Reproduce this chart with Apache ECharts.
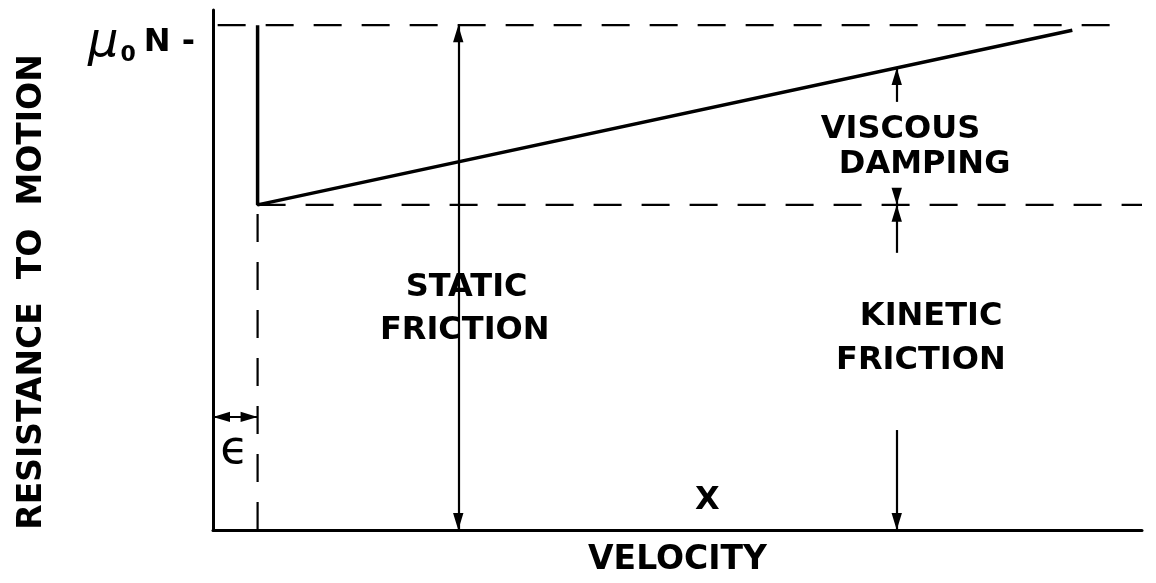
<!DOCTYPE html>
<html>
<head>
<meta charset="utf-8">
<script src="https://cdn.jsdelivr.net/npm/echarts@6/dist/echarts.min.js"></script>
<style>
  html, body { margin: 0; padding: 0; background: #fff; }
  #chart { width: 1156px; height: 583px; }
</style>
</head>
<body>
<div id="chart"></div>
<script>
  // levels (resistance units, muN = 100)
  const muN = 100;
  const kineticLevel = 64.4;
  const breakaway = 4.8;          // epsilon velocity
  // resistance curve: static spike then kinetic + viscous slope
  const curveX = [breakaway, breakaway, 92.5];
  const curveY = [muN, kineticLevel, 99];
  // dimension arrows [x1, y1, x2, y2]
  const staticArrow = [26.4, 0, 26.4, muN];
  const viscousUp = [73.6, 84.8, 73.6, 91.5];
  const viscousDown = [73.6, 67.7, 73.6, kineticLevel];
  const kineticUp = [73.6, 54.9, 73.6, kineticLevel];
  const kineticDown = [73.6, 19.8, 73.6, 0];
  const epsArrow = [0, 22.4, breakaway, 22.4];
  // text labels
  const labelText = ['STATIC', 'FRICTION', 'VISCOUS', 'DAMPING', 'KINETIC', 'FRICTION', 'X', 'ϵ'];
  const labelX = [27.3, 27.1, 74.0, 76.6, 77.3, 76.2, 53.2, 2.3];
  const labelY = [48.0, 39.4, 79.2, 72.3, 42.2, 33.5, 5.9, 15.6];

  const FONT = 'DejaVu Sans';
  // narrow arrow head, tip at the centre of a square box so it ends on the line end
  const HEAD = 'path://M18,18 L23.5,36 L12.5,36 Z M0,0 L0.01,0 M36,36 L35.99,36';
  const chart = echarts.init(document.getElementById('chart'));

  const seg = (a, both) => ({
    coords: [[a[0], a[1]], [a[2], a[3]]],
    symbol: both ? [HEAD, HEAD] : ['none', HEAD]
  });

  const option = {
    animation: false,
    backgroundColor: '#fff',
    grid: { left: 213, right: 14, top: 10, bottom: 53 },
    xAxis: {
      type: 'value', min: 0, max: 100,
      name: 'VELOCITY', nameLocation: 'middle', nameGap: 14,
      nameTextStyle: { fontFamily: FONT, fontWeight: 'bold', fontSize: 33, lineHeight: 33, color: '#000' },
      axisLine: { lineStyle: { color: '#000', width: 3 } },
      axisTick: { show: false }, axisLabel: { show: false }, splitLine: { show: false }
    },
    yAxis: {
      type: 'value', min: 0, max: 103,
      name: 'RESISTANCE  TO  MOTION', nameLocation: 'middle', nameGap: 164, nameRotate: 90,
      nameTextStyle: { fontFamily: FONT, fontWeight: 'bold', fontSize: 33, lineHeight: 33, color: '#000', padding: [0, 44, 0, 0] },
      axisLine: { lineStyle: { color: '#000', width: 3 } },
      axisTick: { show: false }, axisLabel: { show: false }, splitLine: { show: false }
    },
    series: [
      {
        // reference dashed levels
        type: 'line', silent: true, symbol: 'none',
        data: [[0.5, muN], [96.6, muN]],
        lineStyle: { color: '#000', width: 2.2, type: [28, 20] }
      },
      {
        type: 'line', silent: true, symbol: 'none',
        data: [[breakaway, kineticLevel], [100, kineticLevel]],
        lineStyle: { color: '#000', width: 2.2, type: [28, 20] }
      },
      {
        type: 'line', silent: true, symbol: 'none',
        data: [[breakaway, 0], [breakaway, kineticLevel]],
        lineStyle: { color: '#000', width: 2.2, type: [28, 20] }
      },
      {
        // resistance curve
        type: 'line', silent: true, symbol: 'none',
        data: curveX.map((x, i) => [x, curveY[i]]),
        lineStyle: { color: '#000', width: 3.5 }
      },
      {
        type: 'lines', coordinateSystem: 'cartesian2d', silent: true,
        symbolSize: 34,
        lineStyle: { color: '#000', width: 2.2, opacity: 1 },
        itemStyle: { color: '#000' },
        data: [
          seg(staticArrow, true),
          seg(viscousUp), seg(viscousDown), seg(kineticUp), seg(kineticDown),
          seg(epsArrow, true)
        ]
      },
      {
        type: 'scatter', silent: true, symbolSize: 0,
        itemStyle: { color: '#000', opacity: 1 },
        label: {
          show: true, position: 'inside', color: '#000', textBorderWidth: 0,
          fontFamily: FONT, fontWeight: 'bold', fontSize: 32,
          formatter: p => labelText[p.dataIndex],
          rich: { eps: { fontFamily: FONT, fontWeight: 'normal', fontSize: 46, color: '#000' } }
        },
        data: labelX.map((x, i) => {
          const item = { value: [x, labelY[i]] };
          if (labelText[i] === 'ϵ') item.label = { formatter: '{eps|ϵ}' };
          return item;
        })
      },
      {
        type: 'scatter', silent: true, symbolSize: 0,
        itemStyle: { color: '#000', opacity: 1 },
        label: {
          show: true, position: 'left', distance: 18, offset: [0, 18], color: '#000',
          formatter: '{mu|μ}{sub|0}{n|N -}',
          rich: {
            mu: { fontFamily: FONT, fontStyle: 'italic', fontSize: 48, lineHeight: 46, color: '#000' },
            sub: { fontFamily: FONT, fontWeight: 'bold', fontSize: 22, lineHeight: 24, verticalAlign: 'bottom', color: '#000', padding: [0, 8, 0, 2] },
            n: { fontFamily: FONT, fontWeight: 'bold', fontSize: 32, lineHeight: 46, color: '#000' }
          }
        },
        data: [[0, muN]]
      }
    ]
  };
  chart.setOption(option);
</script>
</body>
</html>
